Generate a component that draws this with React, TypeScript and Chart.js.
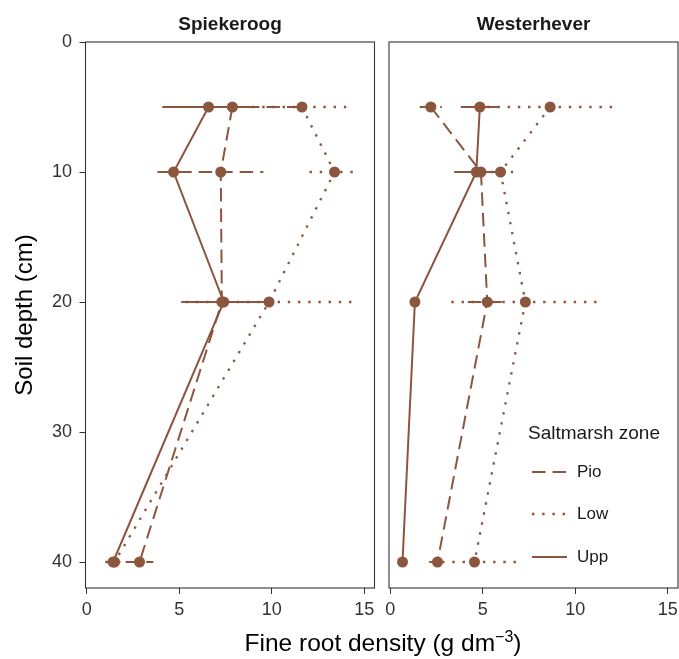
import React, { useEffect, useRef } from "react";
import { Chart, registerables } from "chart.js";

Chart.register(...registerables);

// ---------- data ----------
const depths = [5, 10, 20, 40];
const zones = ["Pio", "Low", "Upp"];
const sites = ["Spiekeroog", "Westerhever"];

const spiPio = [7.87, 7.24, 7.3, 2.85];
const spiPioErr = [3.7, 2.3, 2.1, 0.75];
const spiLow = [11.63, 13.39, 9.85, 1.5];
const spiLowErr = [2.7, 1.35, 4.5, 0.5];
const spiUpp = [6.58, 4.69, 7.4, 1.42];
const spiUppErr = [2.5, 0.87, 2.3, 0.4];

const wesPio = [2.19, 4.9, 5.24, 2.55];
const wesPioErr = [0.6, 0.5, 1.05, 0.45];
const wesLow = [8.64, 5.96, 7.3, 4.55];
const wesLowErr = [3.4, 1.1, 4.0, 2.3];
const wesUpp = [4.84, 4.65, 1.33, 0.66];
const wesUppErr = [1.03, 1.2, 0.2, 0.1];

const xTickValues = [0, 5, 10, 15];
const yTickValues = [0, 10, 20, 30, 40];

const legendTitle = "Saltmarsh zone";
const yTitle = "Soil depth (cm)";

// ---------- styles ----------
const BROWN = "#8c563e";
const FAMILY = "'Liberation Sans', Arial, Helvetica, sans-serif";
const zoneDash: Record<string, number[]> = { Pio: [13.5, 7], Low: [2.4, 7.8], Upp: [] };
const zoneWidth: Record<string, number> = { Pio: 2, Low: 2.3, Upp: 2 };

const siteData = [
  { name: sites[0], values: [spiPio, spiLow, spiUpp], errors: [spiPioErr, spiLowErr, spiUppErr] },
  { name: sites[1], values: [wesPio, wesLow, wesUpp], errors: [wesPioErr, wesLowErr, wesUppErr] },
];

const panelBox = {
  id: "panelBox",
  afterDatasetsDraw(chart: any) {
    const { ctx, chartArea: a } = chart;
    ctx.save();
    ctx.strokeStyle = "#333";
    ctx.lineWidth = 1.1;
    ctx.setLineDash([]);
    ctx.strokeRect(a.left, a.top, a.right - a.left, a.bottom - a.top);
    ctx.restore();
  },
};

const zoneLegend = {
  id: "zoneLegend",
  afterDraw(chart: any) {
    const { ctx, chartArea: a } = chart;
    ctx.save();
    ctx.fillStyle = "#1a1a1a";
    ctx.textBaseline = "middle";
    ctx.textAlign = "left";
    ctx.font = `19px ${FAMILY}`;
    ctx.fillText(legendTitle, a.left + 139, a.top + 392);
    const rows = [430, 472, 515];
    zones.forEach((z, k) => {
      const y = a.top + rows[k];
      ctx.strokeStyle = BROWN;
      ctx.lineWidth = zoneWidth[z];
      ctx.setLineDash(zoneDash[z]);
      ctx.beginPath();
      ctx.moveTo(a.left + 143, y);
      ctx.lineTo(a.left + 178, y);
      ctx.stroke();
      ctx.setLineDash([]);
      ctx.font = `17px ${FAMILY}`;
      ctx.fillStyle = "#1a1a1a";
      ctx.fillText(z, a.left + 188, y);
    });
    ctx.restore();
  },
};

// canvas geometry (page: left panel 85.5..375.5, right panel 389..678)
const LEFT_W = 380;
const RIGHT_X = 380;
const RIGHT_W = 330; // extends beyond the viewport, clipped by container

function buildConfig(i: number): any {
  const site = siteData[i];
  const isLeft = i === 0;
  const lineSets = zones.map((z, k) => ({
    label: z,
    data: depths.map((d, j) => ({ x: site.values[k][j], y: d })),
    showLine: true,
    borderColor: BROWN,
    backgroundColor: BROWN,
    borderWidth: zoneWidth[z],
    borderDash: zoneDash[z],
    pointRadius: 5.5,
    pointHoverRadius: 5.5,
    pointBackgroundColor: BROWN,
    pointBorderWidth: 0,
    order: 1,
  }));
  const errSets: any[] = [];
  zones.forEach((z, k) => {
    depths.forEach((d, j) => {
      const v = site.values[k][j];
      const e = site.errors[k][j];
      errSets.push({
        label: `${z} SE ${d}`,
        data: [
          { x: v - e, y: d },
          { x: v + e, y: d },
        ],
        showLine: true,
        borderColor: BROWN,
        borderWidth: zoneWidth[z],
        borderDash: zoneDash[z],
        pointRadius: 0,
        pointHoverRadius: 0,
        order: 2,
      });
    });
  });

  return {
    type: "scatter",
    data: { datasets: [...lineSets, ...errSets] },
    plugins: isLeft ? [panelBox] : [panelBox, zoneLegend],
    options: {
      responsive: false,
      animation: false,
      devicePixelRatio: 1,
      events: [],
      layout: {
        padding: isLeft
          ? { left: 0, right: LEFT_W - 375.5, top: 0, bottom: 0 }
          : { left: 389 - RIGHT_X, right: RIGHT_X + RIGHT_W - 678, top: 0, bottom: 0 },
      },
      plugins: {
        legend: { display: false },
        tooltip: { enabled: false },
        title: {
          display: true,
          text: site.name,
          fullSize: false,
          color: "#1a1a1a",
          font: { size: 19, weight: "bold", family: FAMILY },
          padding: { top: 13.1, bottom: 6.1 },
        },
      },
      scales: {
        x: {
          type: "linear",
          min: -0.07,
          max: 15.55,
          afterBuildTicks: (s: any) => {
            s.ticks = xTickValues.map((v) => ({ value: v }));
          },
          afterFit: (s: any) => {
            s.height = 71;
            s.paddingLeft = 0;
            s.paddingRight = 0;
          },
          grid: { drawOnChartArea: false, drawTicks: true, tickLength: 6, tickColor: "#333", tickWidth: 1 },
          border: { display: false },
          ticks: { font: { size: 18, family: FAMILY }, color: "#333", padding: 5, maxRotation: 0, autoSkip: false },
        },
        y: {
          type: "linear",
          display: isLeft,
          reverse: true,
          min: 0,
          max: 42,
          afterBuildTicks: (s: any) => {
            s.ticks = yTickValues.map((v) => ({ value: v }));
          },
          afterFit: (s: any) => {
            s.width = isLeft ? 85.5 : 0;
            s.paddingTop = 0;
            s.paddingBottom = 0;
          },
          grid: { drawOnChartArea: false, drawTicks: true, tickLength: 6, tickColor: "#333", tickWidth: 1 },
          border: { display: false },
          ticks: { font: { size: 18, family: FAMILY }, color: "#333", padding: 7.5, autoSkip: false },
          title: {
            display: true,
            text: yTitle,
            color: "#000",
            font: { size: 24, family: FAMILY },
            padding: { top: 10.6, bottom: 0 },
          },
        },
      },
    },
  };
}

export default function App() {
  const leftRef = useRef<HTMLCanvasElement>(null);
  const rightRef = useRef<HTMLCanvasElement>(null);
  useEffect(() => {
    const c1 = new Chart(leftRef.current as HTMLCanvasElement, buildConfig(0));
    const c2 = new Chart(rightRef.current as HTMLCanvasElement, buildConfig(1));
    return () => {
      c1.destroy();
      c2.destroy();
    };
  }, []);
  return (
    <div
      style={{
        position: "fixed",
        left: 0,
        top: 0,
        width: 679,
        height: 659,
        background: "#fff",
        overflow: "hidden",
      }}
    >
      <canvas
        ref={leftRef}
        width={LEFT_W}
        height={659}
        style={{ position: "absolute", left: 0, top: 0, width: LEFT_W, height: 659 }}
      />
      <canvas
        ref={rightRef}
        width={RIGHT_W}
        height={659}
        style={{ position: "absolute", left: RIGHT_X, top: 0, width: RIGHT_W, height: 659 }}
      />
      <div
        style={{
          position: "absolute",
          left: 383,
          top: 628,
          transform: "translateX(-50%)",
          whiteSpace: "nowrap",
          font: `24.5px ${FAMILY}`,
          lineHeight: "30px",
          color: "#000",
        }}
      >
        Fine root density (g dm
        <span style={{ fontSize: 16, verticalAlign: "9.5px", lineHeight: 0 }}>−3</span>)
      </div>
    </div>
  );
}
